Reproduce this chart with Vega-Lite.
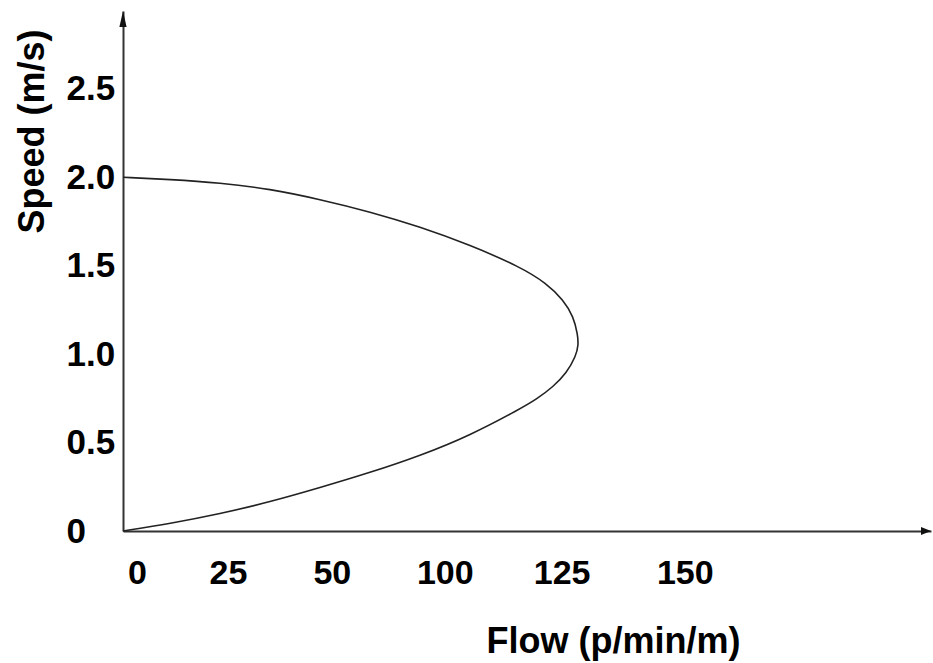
{
  "$schema": "https://vega.github.io/schema/vega-lite/v6.json",
  "width": 808,
  "height": 520,
  "autosize": {"type": "none"},
  "padding": {"left": 123, "top": 11, "right": 2, "bottom": 132},
  "background": "white",
  "config": {
    "view": {"stroke": null},
    "font": "Liberation Sans"
  },
  "datasets": {
    "curve": [
      {"order": 1, "flow": 0, "speed": 2.0},
      {"order": 2, "flow": 13.4, "speed": 1.988},
      {"order": 3, "flow": 27.7, "speed": 1.969},
      {"order": 4, "flow": 42.0, "speed": 1.934},
      {"order": 5, "flow": 56.3, "speed": 1.875},
      {"order": 6, "flow": 70.6, "speed": 1.805},
      {"order": 7, "flow": 84.9, "speed": 1.72},
      {"order": 8, "flow": 99.2, "speed": 1.617},
      {"order": 9, "flow": 113.5, "speed": 1.494},
      {"order": 10, "flow": 121.1, "speed": 1.4},
      {"order": 11, "flow": 125.9, "speed": 1.306},
      {"order": 12, "flow": 128.8, "speed": 1.212},
      {"order": 13, "flow": 130.0, "speed": 1.11},
      {"order": 14, "flow": 130.2, "speed": 1.05},
      {"order": 15, "flow": 129.5, "speed": 0.99},
      {"order": 16, "flow": 126.8, "speed": 0.892},
      {"order": 17, "flow": 123.0, "speed": 0.816},
      {"order": 18, "flow": 118.3, "speed": 0.746},
      {"order": 19, "flow": 113.5, "speed": 0.69},
      {"order": 20, "flow": 99.2, "speed": 0.54},
      {"order": 21, "flow": 84.9, "speed": 0.425},
      {"order": 22, "flow": 70.6, "speed": 0.33},
      {"order": 23, "flow": 56.3, "speed": 0.245},
      {"order": 24, "flow": 42.0, "speed": 0.164},
      {"order": 25, "flow": 27.7, "speed": 0.097},
      {"order": 26, "flow": 13.4, "speed": 0.042},
      {"order": 27, "flow": 0, "speed": 0}
    ],
    "xarrow": [{"flow": 231, "speed": 0}],
    "yarrow": [{"flow": 0, "speed": 2.94}]
  },
  "layer": [
    {
      "data": {"name": "curve"},
      "mark": {"type": "line", "interpolate": "basis", "stroke": "#222222", "strokeWidth": 1.6},
      "encoding": {
        "x": {
          "field": "flow", "type": "quantitative",
          "scale": {"domain": [0, 231], "nice": false, "zero": false},
          "axis": {
            "title": "Flow (p/min/m)",
            "titleFont": "Liberation Sans", "titleFontSize": 36, "titleFontWeight": "bold", "titleColor": "#000000",
            "titleX": 490, "titleY": 121, "titleAlign": "center", "titleBaseline": "alphabetic", "titleAnchor": null,
            "values": [4, 30, 59.7, 92, 125.4, 160.6],
            "labelExpr": "datum.value < 10 ? '0' : datum.value < 40 ? '25' : datum.value < 70 ? '50' : datum.value < 100 ? '100' : datum.value < 140 ? '125' : '150'",
            "labelFont": "Liberation Sans", "labelFontSize": 34, "labelFontWeight": "bold", "labelColor": "#000000",
            "labelBaseline": "alphabetic", "labelAlign": "center", "labelPadding": 52,
            "ticks": false, "tickSize": 0, "grid": false,
            "domainColor": "#333333", "domainWidth": 2,
            "labelOverlap": false, "labelFlush": false, "labelBound": false
          }
        },
        "y": {
          "field": "speed", "type": "quantitative",
          "scale": {"domain": [0, 2.94], "nice": false, "zero": false},
          "axis": {
            "title": "Speed (m/s)",
            "titleFont": "Liberation Sans", "titleFontSize": 36, "titleFontWeight": "bold", "titleColor": "#000000",
            "titleX": -80, "titleY": 120, "titleAlign": "center", "titleBaseline": "alphabetic", "titleAngle": -90, "titleAnchor": null,
            "values": [0, 0.5, 1, 1.5, 2, 2.5],
            "labelExpr": "datum.value == 0 ? '0' : format(datum.value, '.1f')",
            "labelFont": "Liberation Sans", "labelFontSize": 35, "labelFontWeight": "bold", "labelColor": "#000000",
            "labelAlign": "left", "labelBaseline": "middle", "labelPadding": 57,
            "ticks": false, "tickSize": 0, "grid": false,
            "domainColor": "#333333", "domainWidth": 2,
            "labelOverlap": false, "labelFlush": false, "labelBound": false
          }
        },
        "order": {"field": "order", "type": "quantitative"}
      }
    },
    {
      "data": {"name": "xarrow"},
      "mark": {"type": "point", "shape": "M1,0L-1,-0.8L-1,0.8Z", "size": 100, "filled": true, "color": "#111111", "opacity": 1, "xOffset": -5},
      "encoding": {
        "x": {"field": "flow", "type": "quantitative"},
        "y": {"field": "speed", "type": "quantitative"}
      }
    },
    {
      "data": {"name": "yarrow"},
      "mark": {"type": "point", "shape": "M0,-1L0.45,1L-0.45,1Z", "size": 256, "filled": true, "color": "#111111", "opacity": 1, "yOffset": 8},
      "encoding": {
        "x": {"field": "flow", "type": "quantitative"},
        "y": {"field": "speed", "type": "quantitative"}
      }
    }
  ]
}
